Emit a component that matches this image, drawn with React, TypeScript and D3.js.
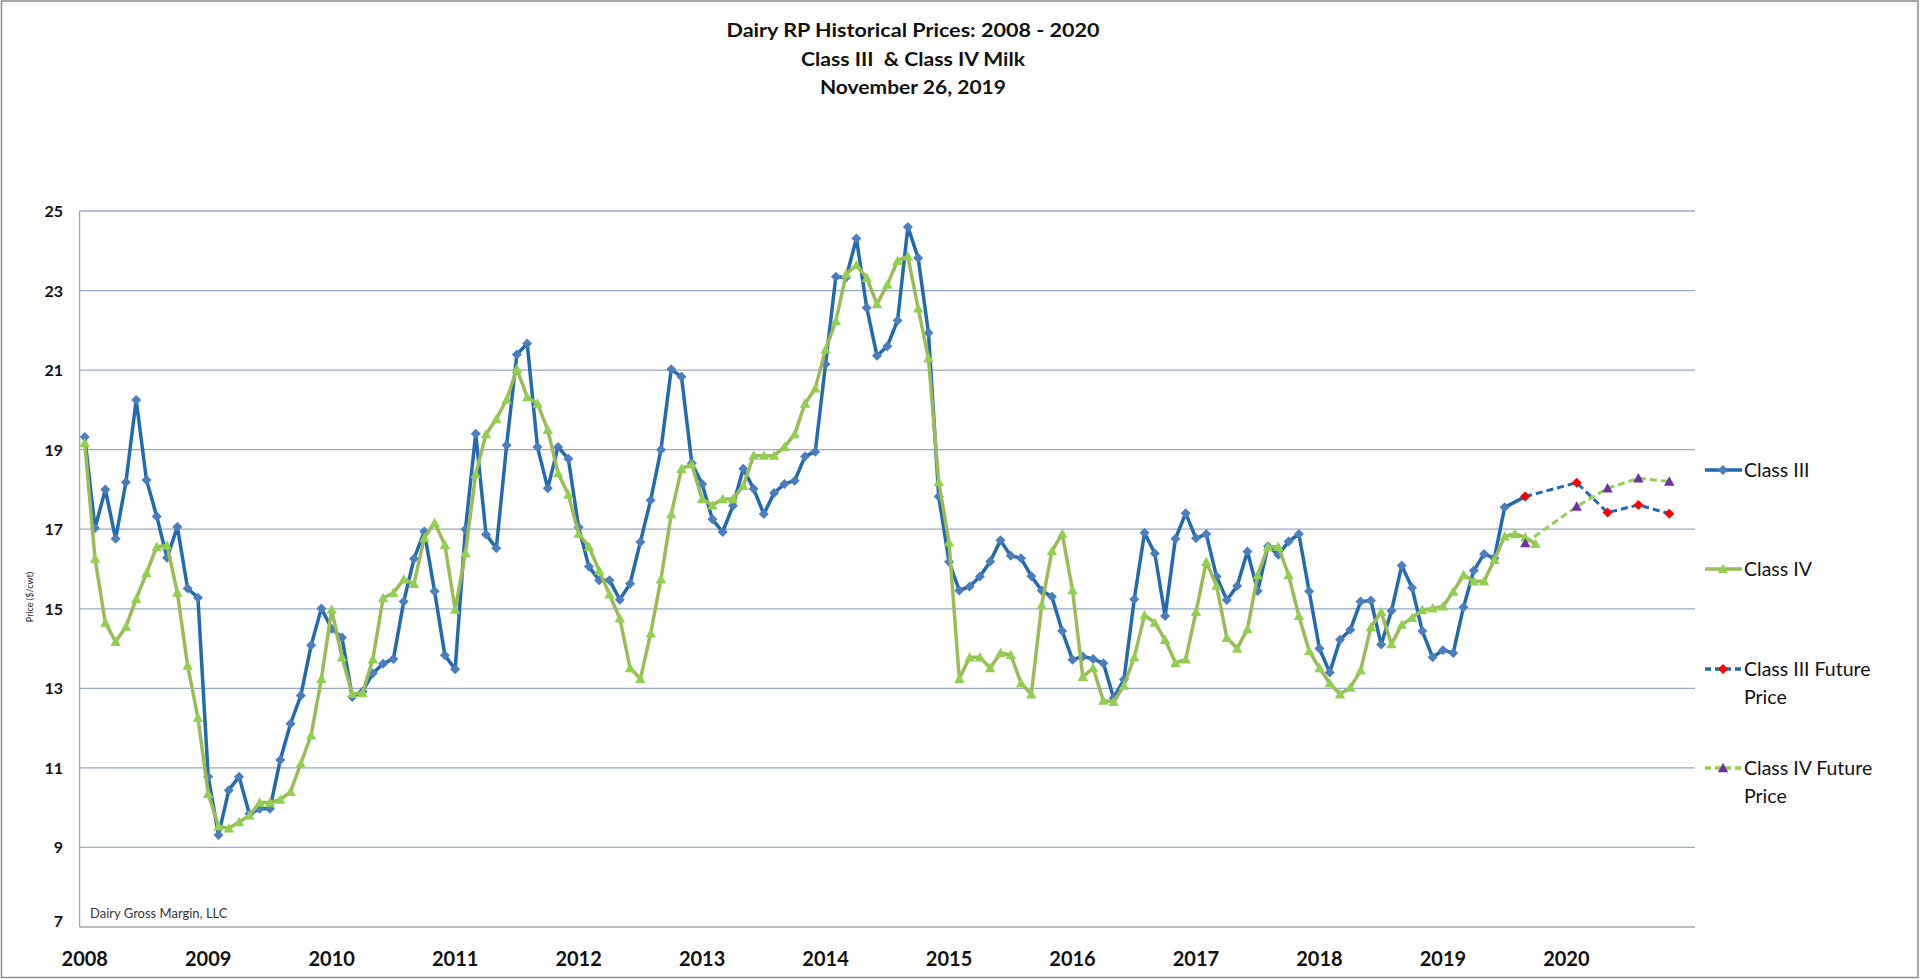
import * as d3 from 'd3';

// ── Data (monthly, $/cwt) ───────────────────────────────────
const YEARS = ['2008', '2009', '2010', '2011', '2012', '2013', '2014', '2015', '2016', '2017', '2018', '2019', '2020'];
const Y_TICKS = [7, 9, 11, 13, 15, 17, 19, 21, 23, 25];
const MONTH_SLOTS = 157; // Jan 2008 .. Jan 2021

const CLASS_III_2008 = [19.32, 17.03, 18.0, 16.76, 18.18, 20.25, 18.24, 17.32, 16.28, 17.06, 15.51, 15.28];
const CLASS_III_2009 = [10.78, 9.31, 10.44, 10.78, 9.84, 9.97, 9.97, 11.2, 12.11, 12.82, 14.08, 15.01];
const CLASS_III_2010 = [14.5, 14.28, 12.78, 12.92, 13.38, 13.62, 13.74, 15.18, 16.26, 16.94, 15.44, 13.83];
const CLASS_III_2011 = [13.48, 17.0, 19.4, 16.87, 16.52, 19.11, 21.39, 21.67, 19.07, 18.03, 19.07, 18.77];
const CLASS_III_2012 = [17.05, 16.06, 15.72, 15.72, 15.23, 15.63, 16.68, 17.73, 19.0, 21.02, 20.83, 18.66];
const CLASS_III_2013 = [18.14, 17.25, 16.93, 17.59, 18.52, 18.02, 17.38, 17.91, 18.14, 18.22, 18.83, 18.95];
const CLASS_III_2014 = [21.15, 23.35, 23.33, 24.31, 22.57, 21.36, 21.6, 22.25, 24.6, 23.82, 21.94, 17.82];
const CLASS_III_2015 = [16.18, 15.46, 15.56, 15.81, 16.19, 16.72, 16.33, 16.27, 15.82, 15.46, 15.3, 14.44];
const CLASS_III_2016 = [13.72, 13.8, 13.74, 13.63, 12.76, 13.22, 15.24, 16.91, 16.39, 14.82, 16.76, 17.4];
const CLASS_III_2017 = [16.77, 16.88, 15.81, 15.22, 15.57, 16.44, 15.45, 16.57, 16.36, 16.69, 16.88, 15.44];
const CLASS_III_2018 = [14.0, 13.4, 14.22, 14.47, 15.18, 15.21, 14.1, 14.95, 16.09, 15.53, 14.44, 13.78];
const CLASS_III_2019 = [13.96, 13.89, 15.04, 15.96, 16.38, 16.27, 17.55, null, 17.82];

const CLASS_IV_2008 = [19.17, 16.26, 14.65, 14.17, 14.55, 15.25, 15.9, 16.56, 16.59, 15.41, 13.57, 12.26];
const CLASS_IV_2009 = [10.35, 9.53, 9.48, 9.64, 9.8, 10.13, 10.13, 10.2, 10.4, 11.11, 11.82, 13.24];
const CLASS_IV_2010 = [14.98, 13.78, 12.86, 12.88, 13.73, 15.27, 15.4, 15.74, 15.63, 16.78, 17.16, 16.61];
const CLASS_IV_2011 = [14.98, 16.4, 18.39, 19.39, 19.77, 20.26, 21.03, 20.32, 20.16, 19.5, 18.41, 17.87];
const CLASS_IV_2012 = [16.89, 16.56, 15.96, 15.36, 14.76, 13.51, 13.24, 14.38, 15.74, 17.38, 18.52, 18.63];
const CLASS_IV_2013 = [17.76, 17.6, 17.76, 17.76, 18.09, 18.85, 18.85, 18.85, 19.07, 19.39, 20.16, 20.54];
const CLASS_IV_2014 = [21.52, 22.23, 23.42, 23.64, 23.32, 22.66, 23.15, 23.75, 23.86, 22.55, 21.3, 18.19];
const CLASS_IV_2015 = [16.67, 13.24, 13.78, 13.78, 13.51, 13.89, 13.84, 13.13, 12.85, 15.09, 16.45, 16.89];
const CLASS_IV_2016 = [15.47, 13.29, 13.51, 12.69, 12.66, 13.07, 13.78, 14.84, 14.65, 14.22, 13.64, 13.73];
const CLASS_IV_2017 = [14.92, 16.18, 15.58, 14.27, 14.0, 14.49, 15.85, 16.56, 16.56, 15.85, 14.82, 13.94];
const CLASS_IV_2018 = [13.51, 13.13, 12.85, 13.02, 13.45, 14.54, 14.92, 14.11, 14.6, 14.77, 14.97, 15.01];
const CLASS_IV_2019 = [15.06, 15.43, 15.85, 15.69, 15.69, 16.23, 16.82, 16.88, 16.8, 16.63];

const FUTURE_MONTHS = ['2019-09', '2020-02', '2020-05', '2020-08', '2020-11'];
const CLASS_III_FUTURE = [17.82, 18.17, 17.42, 17.61, 17.39];
const CLASS_IV_FUTURE = [16.65, 17.57, 18.03, 18.28, 18.2];

const TITLE_LINES = ['Dairy RP Historical Prices: 2008 - 2020', 'Class III  & Class IV Milk', 'November 26, 2019'];

const CLASS_III = [
  ...CLASS_III_2008, ...CLASS_III_2009, ...CLASS_III_2010, ...CLASS_III_2011,
  ...CLASS_III_2012, ...CLASS_III_2013, ...CLASS_III_2014, ...CLASS_III_2015,
  ...CLASS_III_2016, ...CLASS_III_2017, ...CLASS_III_2018, ...CLASS_III_2019,
];
const CLASS_IV = [
  ...CLASS_IV_2008, ...CLASS_IV_2009, ...CLASS_IV_2010, ...CLASS_IV_2011,
  ...CLASS_IV_2012, ...CLASS_IV_2013, ...CLASS_IV_2014, ...CLASS_IV_2015,
  ...CLASS_IV_2016, ...CLASS_IV_2017, ...CLASS_IV_2018, ...CLASS_IV_2019,
];

type Pt = { i: number; v: number };

const toPoints = (vals: (number | null)[]): Pt[] =>
  vals.map((v, i) => ({ i, v })).filter((d): d is Pt => d.v != null);

const monthIndex = (s: string) => {
  const [y, m] = s.split('-').map(Number);
  return (y - 2008) * 12 + (m - 1);
};

const futurePoints = (vals: number[]): Pt[] =>
  vals.map((v, k) => ({ i: monthIndex(FUTURE_MONTHS[k]), v }));

const FONT = 'Lato, "Open Sans", sans-serif';

const C3_LINE = '#2369ad';
const C3_MARK = '#4a7ebf';
const C4_LINE = '#9bbb59';
const C4_MARK = '#92d050';
const F3_MARK = '#ff0000';
const F4_MARK = '#7030a0';

const diamond = (cx: number, cy: number, r: number) =>
  `M${cx},${cy - r}L${cx + r},${cy}L${cx},${cy + r}L${cx - r},${cy}Z`;
const triangle = (cx: number, cy: number, r: number) =>
  `M${cx},${cy - r}L${cx + r},${cy + r * 0.8}L${cx - r},${cy + r * 0.8}Z`;

export default function App() {
  const W = 1920;
  const H = 979;
  const left = 79.6;
  const right = 1695;
  const top = 211;
  const bottom = 927;

  const x = d3.scaleLinear().domain([-0.5, MONTH_SLOTS - 0.5]).range([left, right]);
  const y = d3.scaleLinear().domain([7, 25]).range([bottom, top]);

  const line = d3.line<Pt>().x(d => x(d.i)).y(d => y(d.v));

  const c3 = toPoints(CLASS_III);
  const c4 = toPoints(CLASS_IV);
  const f3 = futurePoints(CLASS_III_FUTURE);
  const f4 = futurePoints(CLASS_IV_FUTURE);

  // title line widths / baselines measured off the layout
  const titleLen = [373, 224, 186];
  const titleY = [37, 66, 93.5];

  const legend = [
    { lines: ['Class III'], y: 470, stroke: C3_LINE, dash: undefined, mark: 'd', fill: C3_MARK },
    { lines: ['Class IV'], y: 569, stroke: C4_LINE, dash: undefined, mark: 't', fill: C4_MARK },
    { lines: ['Class III Future', 'Price'], y: 669, stroke: C3_LINE, dash: '6,4', mark: 'd', fill: F3_MARK },
    { lines: ['Class IV Future', 'Price'], y: 768, stroke: C4_MARK, dash: '6,4', mark: 't', fill: F4_MARK },
  ];

  return (
    <svg width={W} height={H} style={{ position: 'absolute', left: 0, top: 0, background: '#fff' }}>
      <rect x={1.5} y={1} width={W - 3.5} height={H - 2.5} fill="#fff" stroke="#8c8c8c" strokeWidth={1.5} />

      {/* Title */}
      <g fontFamily={FONT} fontWeight={700} fontSize={19} fill="#111" textAnchor="middle">
        {TITLE_LINES.map((t, k) => (
          <text key={t} x={913} y={titleY[k]} textLength={titleLen[k]} lengthAdjust="spacingAndGlyphs"
            style={{ whiteSpace: 'pre' }}>{t}</text>
        ))}
      </g>

      {/* Grid */}
      {Y_TICKS.filter(t => t > 7).map(t => (
        <line key={t} x1={left} x2={right} y1={y(t)} y2={y(t)} stroke="#95acc3" strokeWidth={1.3} />
      ))}
      <line x1={left} x2={left} y1={top} y2={bottom} stroke="#a6a6a6" strokeWidth={1.3} />
      <line x1={left} x2={right} y1={bottom} y2={bottom} stroke="#a6a6a6" strokeWidth={1.3} />

      {/* Y axis labels */}
      <g fontFamily={FONT} fontWeight={700} fontSize={16} fill="#111" textAnchor="end">
        {Y_TICKS.map(t => (
          <text key={t} x={63} y={y(t) + (t === 7 ? 0 : 6)}>{t}</text>
        ))}
      </g>
      <text
        transform={`translate(33,${(top + bottom) / 2 + 28}) rotate(-90)`}
        fontFamily={FONT} fontSize={9} fill="#222" textAnchor="middle"
      >Price ($/cwt)</text>

      {/* X axis labels */}
      <g fontFamily={FONT} fontWeight={700} fontSize={20} fill="#111" textAnchor="middle">
        {YEARS.map((yr, k) => (
          <text key={yr} x={x(k * 12)} y={966}>{yr}</text>
        ))}
      </g>

      <text x={90} y={918} fontFamily={FONT} fontSize={13} fill="#333">Dairy Gross Margin, LLC</text>

      {/* Class III */}
      <path d={line(c3) ?? ''} fill="none" stroke={C3_LINE} strokeWidth={3.5} strokeLinejoin="round" />
      {c3.map(d => <path key={`c3${d.i}`} d={diamond(x(d.i), y(d.v), 5)} fill={C3_MARK} />)}

      {/* Class IV */}
      <path d={line(c4) ?? ''} fill="none" stroke={C4_LINE} strokeWidth={3.5} strokeLinejoin="round" />
      {c4.map(d => <path key={`c4${d.i}`} d={triangle(x(d.i), y(d.v), 5.2)} fill={C4_MARK} />)}

      {/* Class III future */}
      <path d={line(f3) ?? ''} fill="none" stroke={C3_LINE} strokeWidth={3} strokeDasharray="7,4" />
      {f3.map(d => <path key={`f3${d.i}`} d={diamond(x(d.i), y(d.v), 5)} fill={F3_MARK} />)}

      {/* Class IV future */}
      <path d={line(f4) ?? ''} fill="none" stroke={C4_MARK} strokeWidth={3} strokeDasharray="7,4" />
      {f4.map(d => <path key={`f4${d.i}`} d={triangle(x(d.i), y(d.v), 5.2)} fill={F4_MARK} />)}

      {/* Legend */}
      <g fontFamily={FONT} fontSize={19.5} fill="#111">
        {legend.map(l => (
          <g key={l.lines[0]}>
            <line x1={1705} x2={1742} y1={l.y} y2={l.y} stroke={l.stroke} strokeWidth={3.5} strokeDasharray={l.dash} />
            <path d={l.mark === 'd' ? diamond(1723, l.y, 5) : triangle(1723, l.y, 5.2)} fill={l.fill} />
            {l.lines.map((t, k) => (
              <text key={t} x={1744} y={l.y + 7 + k * 28}>{t}</text>
            ))}
          </g>
        ))}
      </g>
    </svg>
  );
}
